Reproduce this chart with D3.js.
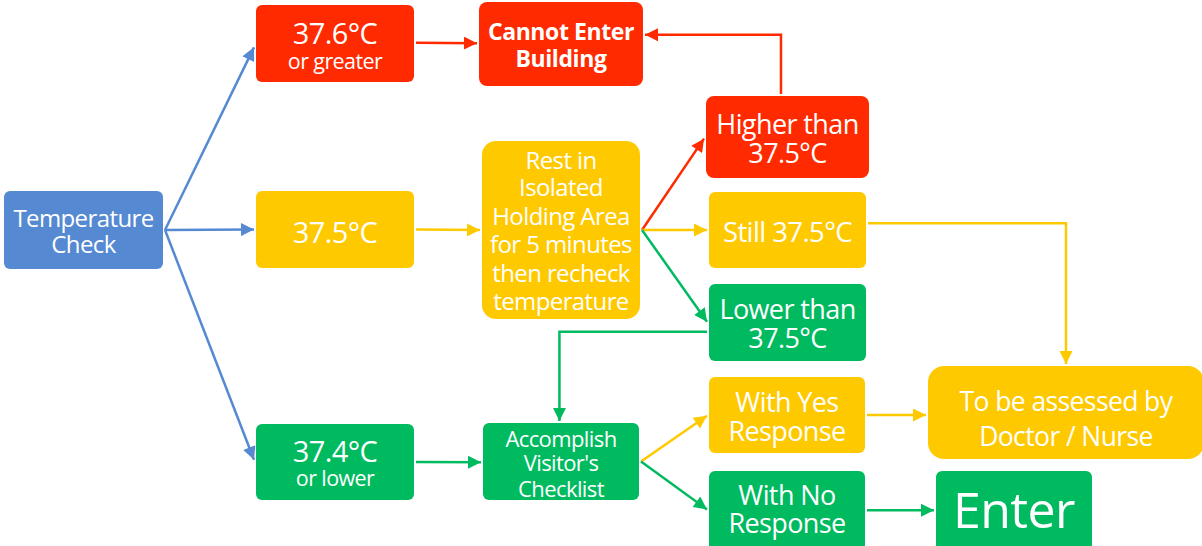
<!DOCTYPE html>
<html>
<head>
<meta charset="utf-8">
<script src="https://cdn.jsdelivr.net/npm/d3@7"></script>
<style>
  html, body { margin: 0; padding: 0; background: #fff; }
  svg { display: block; }
</style>
</head>
<body>
<div id="chart"></div>
<script>
// Flowchart content
const nodeIds = ["temp", "t376", "t375", "t374", "cannot", "rest", "higher", "still",
  "lower", "checklist", "yes", "no", "assess", "enter"];

const nodeLines = {
  temp: ["Temperature", "Check"],
  t376: ["37.6°C", "or greater"],
  t375: ["37.5°C"],
  t374: ["37.4°C", "or lower"],
  cannot: ["Cannot Enter", "Building"],
  rest: ["Rest in", "Isolated", "Holding Area", "for 5 minutes", "then recheck", "temperature"],
  higher: ["Higher than", "37.5°C"],
  still: ["Still 37.5°C"],
  lower: ["Lower than", "37.5°C"],
  checklist: ["Accomplish", "Visitor's", "Checklist"],
  yes: ["With Yes", "Response"],
  no: ["With No", "Response"],
  assess: ["To be assessed by", "Doctor / Nurse"],
  enter: ["Enter"]
};

const nodeKind = {
  temp: "blue", t376: "red", t375: "yellow", t374: "green", cannot: "red",
  rest: "yellow", higher: "red", still: "yellow", lower: "green",
  checklist: "green", yes: "yellow", no: "green", assess: "yellow", enter: "green"
};

// [source, target, colour kind]
const links = [
  ["temp", "t376", "blue"],
  ["temp", "t375", "blue"],
  ["temp", "t374", "blue"],
  ["t376", "cannot", "red"],
  ["higher", "cannot", "red"],
  ["t375", "rest", "yellow"],
  ["rest", "higher", "red"],
  ["rest", "still", "yellow"],
  ["rest", "lower", "green"],
  ["still", "assess", "yellow"],
  ["lower", "checklist", "green"],
  ["t374", "checklist", "green"],
  ["checklist", "yes", "yellow"],
  ["checklist", "no", "green"],
  ["yes", "assess", "yellow"],
  ["no", "enter", "green"]
];

// ---- layout & style (kept separate from the content) ----
const width = 1202, height = 546;

const colors = {
  blue: "#5589d2",
  red: "#ff2a00",
  yellow: "#ffc900",
  green: "#00ba60"
};

// x, y, w, h, corner radius
const boxes = {
  temp: [4, 191, 159, 78, 6],
  t376: [256, 5, 158, 77, 6],
  t375: [256, 191, 158, 77, 6],
  t374: [256, 424, 158, 76, 6],
  cannot: [479, 2, 164, 84, 8],
  rest: [482, 141, 158, 178, 14],
  higher: [706, 96, 163, 82, 8],
  still: [709, 192, 157, 76, 6],
  lower: [709, 284, 157, 77, 6],
  checklist: [483, 423, 156, 77, 6],
  yes: [709, 377, 156, 76, 6],
  no: [709, 471, 156, 80, 6],
  assess: [928, 366, 276, 93, 16],
  enter: [936, 471, 156, 80, 6]
};

// text: font size per line, line centres
const textStyle = {
  temp: { size: [24, 24], y: [217, 243] },
  t376: { size: [29, 21.5], y: [32, 60] },
  t375: { size: [29], y: [231] },
  t374: { size: [29, 21.5], y: [450, 477] },
  cannot: { size: [23, 23], y: [31, 58], bold: true },
  rest: { size: [24, 24, 24, 24, 24, 24], y: [159, 186, 215, 243, 272, 300] },
  higher: { size: [27, 27], y: [123, 152] },
  still: { size: [27.5], y: [231] },
  lower: { size: [27, 27], y: [308, 337] },
  checklist: { size: [22, 22, 22], y: [438, 462, 488] },
  yes: { size: [27, 27], y: [401, 430] },
  no: { size: [27, 27], y: [494, 522] },
  assess: { size: [26.5, 26.5], y: [401, 436] },
  enter: { size: [50], y: [509] }
};

// link anchors: [source side, t], [target side, t], route
const anchors = [
  [["r", 0.5], ["l", 0.55], "straight"],
  [["r", 0.5], ["l", 0.5], "straight"],
  [["r", 0.5], ["l", 0.47], "straight"],
  [["r", 0.49], ["l", 0.49], "straight"],
  [["t", 0.46], ["r", 0.39], "vh"],
  [["r", 0.5], ["l", 0.5], "straight"],
  [["r", 0.5], ["l", 0.52], "straight"],
  [["r", 0.5], ["l", 0.5], "straight"],
  [["r", 0.5], ["l", 0.49], "straight"],
  [["r", 0.41], ["t", 0.5], "hv"],
  [["l", 0.62], ["t", 0.49], "hv"],
  [["r", 0.5], ["l", 0.51], "straight"],
  [["r", 0.5], ["l", 0.51], "straight"],
  [["r", 0.5], ["l", 0.48], "straight"],
  [["r", 0.5], ["l", 0.527], "straight"],
  [["r", 0.49], ["l", 0.49], "straight"]
];

const gap = 2;
function anchorPoint(id, side, t) {
  const [x, y, w, h] = boxes[id];
  if (side === "r") return [x + w + gap, y + h * t];
  if (side === "l") return [x - gap, y + h * t];
  if (side === "t") return [x + w * t, y - gap];
  return [x + w * t, y + h + gap];
}

const svg = d3.select("#chart")
  .append("svg")
  .attr("width", width)
  .attr("height", height);

// arrow markers, one per colour
const defs = svg.append("defs");
Object.entries(colors).forEach(([k, c]) => {
  defs.append("marker")
    .attr("id", "arrow-" + k)
    .attr("viewBox", "0 0 10 10")
    .attr("refX", 10)
    .attr("refY", 5)
    .attr("markerUnits", "userSpaceOnUse")
    .attr("markerWidth", 15)
    .attr("markerHeight", 13)
    .attr("orient", "auto")
    .append("path")
    .attr("d", "M0,0 L10,5 L0,10 Z")
    .attr("fill", c);
});

// boxes
const node = svg.selectAll("g.node")
  .data(nodeIds)
  .join("g")
  .attr("class", "node");

node.append("rect")
  .attr("x", (d) => boxes[d][0])
  .attr("y", (d) => boxes[d][1])
  .attr("width", (d) => boxes[d][2])
  .attr("height", (d) => boxes[d][3])
  .attr("rx", (d) => boxes[d][4])
  .attr("fill", (d) => colors[nodeKind[d]]);

// one text element per box, one tspan per line
node.each(function (id) {
  const [x, , w] = boxes[id];
  const st = textStyle[id];
  const text = d3.select(this).append("text")
    .attr("text-anchor", "middle")
    .attr("fill", "#fff")
    .style("font-family", "'Open Sans', 'Noto Sans', sans-serif")
    .style("font-weight", st.bold ? "700" : "400")
    .style("letter-spacing", st.bold ? "-0.4px" : "-0.6px");
  nodeLines[id].forEach((line, i) => {
    text.append("tspan")
      .attr("x", x + w / 2)
      .attr("y", st.y[i])
      .attr("dominant-baseline", "central")
      .style("font-size", st.size[i] + "px")
      .text(line);
  });
});

// connectors
const line = d3.line();
svg.selectAll("path.link")
  .data(links)
  .join("path")
  .attr("class", "link")
  .attr("d", (d, i) => {
    const [[ss, st], [ts, tt], route] = anchors[i];
    const p0 = anchorPoint(d[0], ss, st);
    const p1 = anchorPoint(d[1], ts, tt);
    let pts = [p0, p1];
    if (route === "hv") pts = [p0, [p1[0], p0[1]], p1];
    if (route === "vh") pts = [p0, [p0[0], p1[1]], p1];
    return line(pts);
  })
  .attr("fill", "none")
  .attr("stroke", (d) => colors[d[2]])
  .attr("stroke-width", 2.5)
  .attr("marker-end", (d) => `url(#arrow-${d[2]})`);
</script>
</body>
</html>
